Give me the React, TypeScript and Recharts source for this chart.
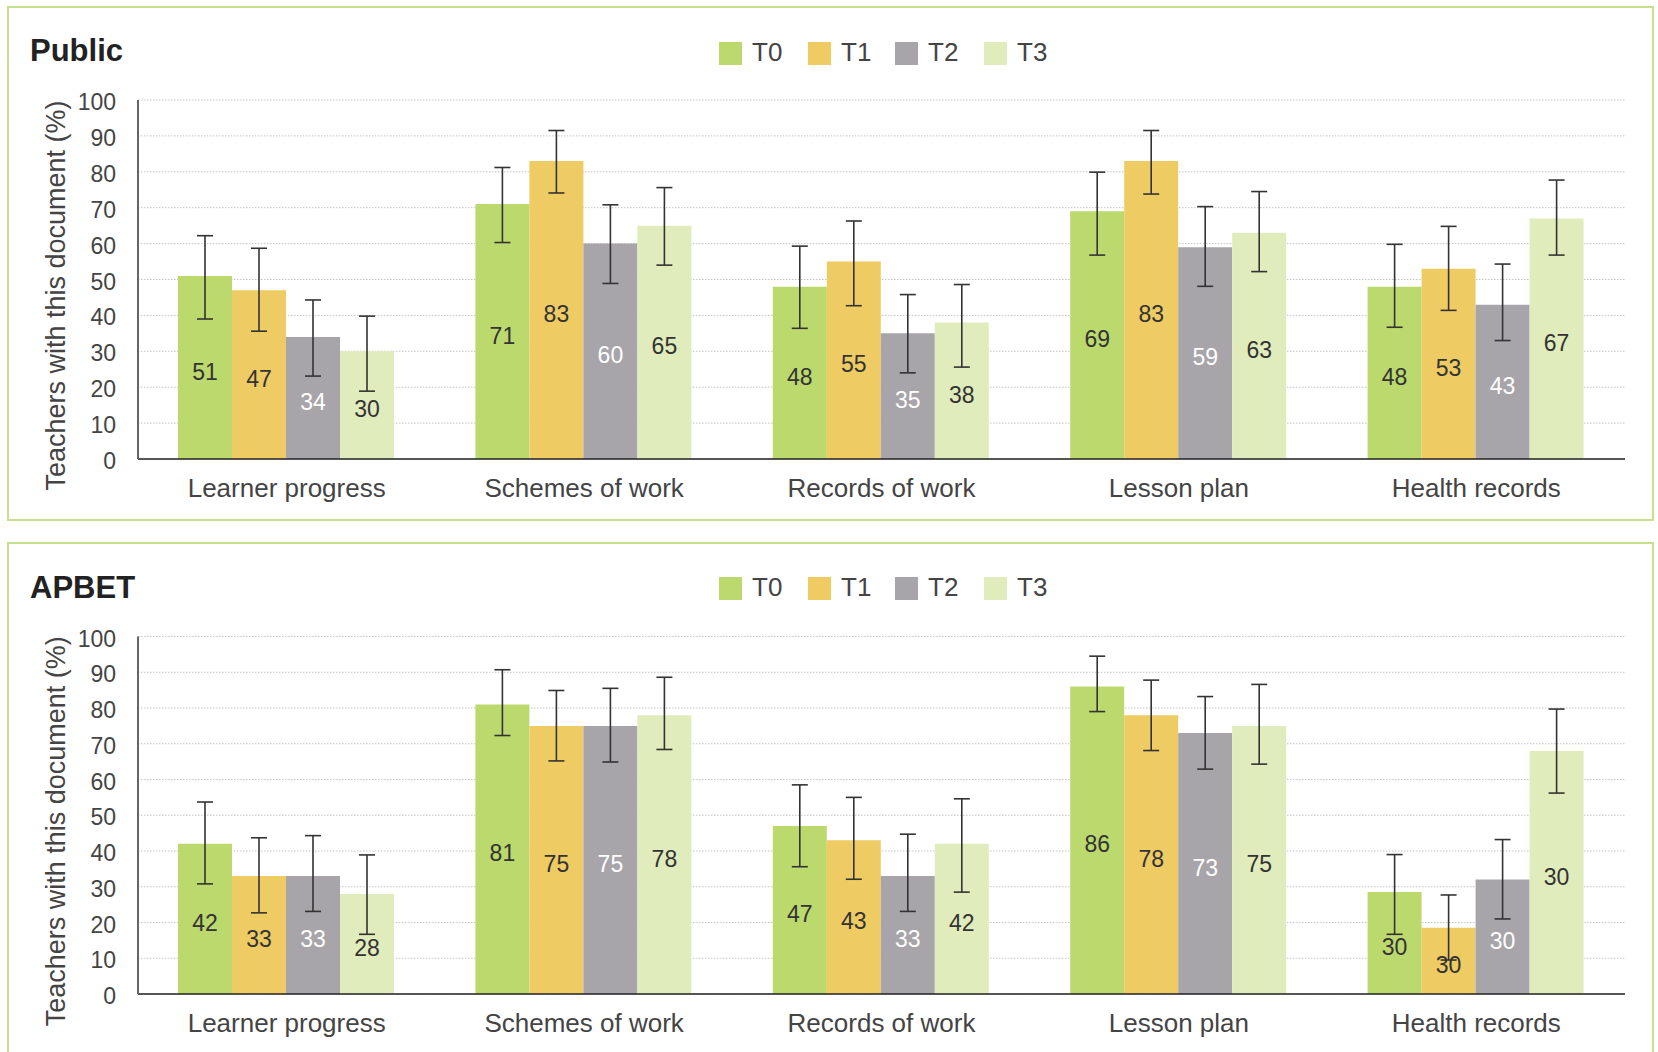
import React from 'react';
import { BarChart, Bar, XAxis, YAxis, CartesianGrid, ErrorBar, LabelList } from 'recharts';

// Document categories on the x axis
const categories = ['Learner progress', 'Schemes of work', 'Records of work', 'Lesson plan', 'Health records'];
const seriesKeys = ['T0', 'T1', 'T2', 'T3'];
const seriesColors = ['#bcd96e', '#eecb63', '#a7a5aa', '#e0ecbb'];
const labelColors = ['#333333', '#333333', '#ffffff', '#333333'];
const yTicks = [0, 10, 20, 30, 40, 50, 60, 70, 80, 90, 100];

// Public schools: share of teachers (%) with each document, by round
const publicT0 = [51, 71, 48, 69, 48];
const publicT1 = [47, 83, 55, 83, 53];
const publicT2 = [34, 60, 35, 59, 43];
const publicT3 = [30, 65, 38, 63, 67];
// 95% confidence bounds
const publicT0Low = [39, 60.3, 36.4, 56.8, 36.7];
const publicT0High = [62.2, 81.2, 59.3, 79.9, 59.8];
const publicT1Low = [35.6, 74.1, 42.7, 73.8, 41.4];
const publicT1High = [58.7, 91.5, 66.3, 91.5, 64.8];
const publicT2Low = [23.1, 48.9, 24, 48.1, 33];
const publicT2High = [44.3, 70.8, 45.8, 70.3, 54.3];
const publicT3Low = [18.9, 54, 25.6, 52.2, 56.8];
const publicT3High = [39.8, 75.6, 48.6, 74.5, 77.7];

// APBET schools
const apbetT0 = [42, 81, 47, 86, 28.5];
const apbetT1 = [33, 75, 43, 78, 18.5];
const apbetT2 = [33, 75, 33, 73, 32];
const apbetT3 = [28, 78, 42, 75, 68];
const apbetT0Low = [30.8, 72.3, 35.6, 79, 16.7];
const apbetT0High = [53.7, 90.7, 58.5, 94.5, 39];
const apbetT1Low = [22.7, 65.2, 32.1, 68.1, 9.5];
const apbetT1High = [43.7, 84.9, 55, 87.8, 27.7];
const apbetT2Low = [23.1, 64.9, 23.1, 62.9, 21];
const apbetT2High = [44.3, 85.5, 44.7, 83.2, 43.2];
const apbetT3Low = [16.7, 68.4, 28.5, 64.3, 56.2];
const apbetT3High = [38.9, 88.6, 54.6, 86.6, 79.7];
// Printed value labels for the APBET health-records group
const apbetHealthLabels = ['30', '30', '30', '30'];

const FONT = '"Liberation Sans", Arial, sans-serif';
const TEXT = '#444444';
const BORDER = '#c6e08f';

type Series = { values: number[]; low: number[]; high: number[]; labels?: (string | null)[] };

function buildRows(series: Series[]) {
  return categories.map((name, i) => {
    const row: Record<string, any> = { name };
    series.forEach((s, k) => {
      const key = seriesKeys[k];
      const v = s.values[i];
      row[key] = v;
      row[key + 'err'] = [v - s.low[i], s.high[i] - v];
      const override = s.labels ? s.labels[i] : null;
      row[key + 'lbl'] = override != null ? override : String(Math.round(v));
    });
    return row;
  });
}

const withHealthLabel = (k: number) => categories.map((_, i) => (i === 4 ? apbetHealthLabels[k] : null));

const publicRows = buildRows([
  { values: publicT0, low: publicT0Low, high: publicT0High },
  { values: publicT1, low: publicT1Low, high: publicT1High },
  { values: publicT2, low: publicT2Low, high: publicT2High },
  { values: publicT3, low: publicT3Low, high: publicT3High },
]);

const apbetRows = buildRows([
  { values: apbetT0, low: apbetT0Low, high: apbetT0High, labels: withHealthLabel(0) },
  { values: apbetT1, low: apbetT1Low, high: apbetT1High, labels: withHealthLabel(1) },
  { values: apbetT2, low: apbetT2Low, high: apbetT2High, labels: withHealthLabel(2) },
  { values: apbetT3, low: apbetT3Low, high: apbetT3High, labels: withHealthLabel(3) },
]);

const XTick = (props: any) => {
  const { x, y, payload } = props;
  return (
    <text x={x} y={y + 38} textAnchor="middle" fontSize={26} fill={TEXT} fontFamily={FONT}>
      {payload.value}
    </text>
  );
};

const YTick = (props: any) => {
  const { x, y, payload } = props;
  return (
    <text x={x} y={y + 10} textAnchor="end" fontSize={23} fill={TEXT} fontFamily={FONT}>
      {payload.value}
    </text>
  );
};

type PanelProps = {
  title: string;
  rows: Record<string, any>[];
  top: number;
  chartHeight: number;
  marginTop: number;
  marginBottom: number;
  boxHeight: number;
  titleTop: number;
  legendTop: number;
};

function Legend({ top }: { top: number }) {
  const xs = [719, 808, 895, 984];
  return (
    <>
      {seriesKeys.map((k, i) => (
        <div key={k} style={{ position: 'absolute', left: xs[i], top, height: 23 }}>
          <div style={{ position: 'absolute', left: 0, top: 0, width: 23, height: 23, background: seriesColors[i] }} />
          <div
            style={{
              position: 'absolute',
              left: 33,
              top: -5,
              fontSize: 26,
              lineHeight: '30px',
              color: TEXT,
              fontFamily: FONT,
              whiteSpace: 'nowrap',
            }}
          >
            {k}
          </div>
        </div>
      ))}
    </>
  );
}

function Panel({ title, rows, top, chartHeight, marginTop, marginBottom, boxHeight, titleTop, legendTop }: PanelProps) {
  const plotTop = marginTop;
  const plotBottom = chartHeight - marginBottom - 50;
  const labelCy = (plotTop + plotBottom) / 2 + 16;
  return (
    <>
      <div
        style={{
          position: 'absolute',
          left: 7,
          top: top + 6,
          width: 1647,
          height: boxHeight,
          border: `2px solid ${BORDER}`,
          boxSizing: 'border-box',
        }}
      />
      <div
        style={{
          position: 'absolute',
          left: 30,
          top: top + titleTop,
          fontSize: 31,
          fontWeight: 'bold',
          color: '#222',
          fontFamily: FONT,
          lineHeight: '36px',
        }}
      >
        {title}
      </div>
      <Legend top={top + legendTop} />
      <div style={{ position: 'absolute', left: 0, top }}>
        <BarChart
          width={1658}
          height={chartHeight}
          data={rows}
          margin={{ top: marginTop, right: 33, bottom: marginBottom, left: 58 }}
          barCategoryGap={40}
          barGap={0}
        >
          <CartesianGrid vertical={false} stroke="#c4c4c4" strokeDasharray="1.5 1.5" />
          <XAxis
            dataKey="name"
            height={50}
            tickLine={false}
            tickSize={0}
            tickMargin={0}
            tick={<XTick />}
            axisLine={{ stroke: '#222', strokeWidth: 1.6 }}
            interval={0}
          />
          <YAxis
            width={80}
            domain={[0, 100]}
            ticks={yTicks}
            interval={0}
            tickLine={false}
            tickSize={0}
            tickMargin={22}
            tick={<YTick />}
            axisLine={{ stroke: '#666', strokeWidth: 2 }}
            label={{
              content: () => (
                <text
                  x={56}
                  y={labelCy}
                  transform={`rotate(-90 56 ${labelCy})`}
                  textAnchor="middle"
                  dominantBaseline="central"
                  fontSize={27}
                  fill={TEXT}
                  fontFamily={FONT}
                >
                  Teachers with this document (%)
                </text>
              ),
            }}
          />
          {seriesKeys.map((k, i) => (
            <Bar key={k} dataKey={k} fill={seriesColors[i]} isAnimationActive={false}>
              <LabelList
                dataKey={k + 'lbl'}
                position="center"
                fill={labelColors[i]}
                fontSize={23}
                fontFamily={FONT}
                dy={4}
              />
              <ErrorBar dataKey={k + 'err'} width={8} stroke="#333" strokeWidth={1.6} direction="y" />
            </Bar>
          ))}
        </BarChart>
      </div>
    </>
  );
}

export default function App() {
  return (
    <div
      style={{
        position: 'absolute',
        left: 0,
        top: 0,
        width: 1658,
        height: 1052,
        background: '#fff',
        overflow: 'hidden',
        fontFamily: FONT,
      }}
    >
      <Panel
        title="Public"
        rows={publicRows}
        top={0}
        chartHeight={519}
        marginTop={100}
        marginBottom={10}
        boxHeight={515}
        titleTop={33}
        legendTop={42}
      />
      <Panel
        title="APBET"
        rows={apbetRows}
        top={536}
        chartHeight={516}
        marginTop={100.5}
        marginBottom={8}
        boxHeight={560}
        titleTop={34}
        legendTop={41}
      />
    </div>
  );
}
